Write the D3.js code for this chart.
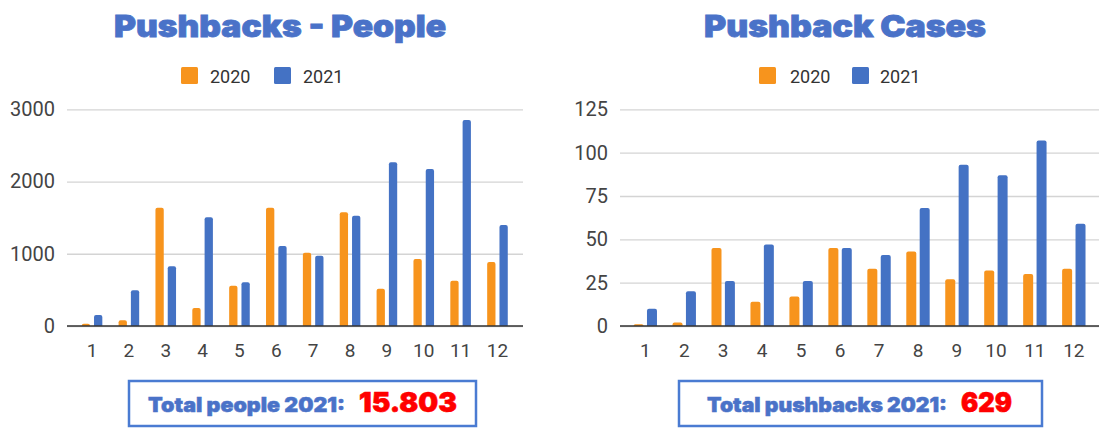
<!DOCTYPE html>
<html><head><meta charset="utf-8">
<script src="https://cdn.jsdelivr.net/npm/d3@7"></script>
<style>
html,body{margin:0;padding:0;background:#fff;}
svg{display:block;}
</style></head>
<body>
<svg id="c" width="1099" height="428"></svg>
<script>
const months = ["1","2","3","4","5","6","7","8","9","10","11","12"];
const seriesNames = ["2020","2021"];
const people2020 = [30, 78, 1638, 249, 558, 1638, 1015, 1574, 517, 928, 628, 886];
const people2021 = [152, 494, 826, 1505, 605, 1108, 974, 1528, 2266, 2174, 2852, 1398];
const cases2020 = [1, 2, 45, 14, 17, 45, 33, 43, 27, 32, 30, 33];
const cases2021 = [10, 20, 26, 47, 26, 45, 41, 68, 93, 87, 107, 59];
const peopleTicks = [0, 1000, 2000, 3000];
const casesTicks = [0, 25, 50, 75, 100, 125];
const colors = {"2020": "#f7941d", "2021": "#4472c4"};
const titleBlue = "#4a72c8";

const svg = d3.select("#c");

function roundedTop(x, y, w, h, r) {
  r = Math.min(r, h, w / 2);
  return `M${x},${y + h}V${y + r}Q${x},${y} ${x + r},${y}H${x + w - r}Q${x + w},${y} ${x + w},${y + r}V${y + h}Z`;
}

function drawChart(cfg) {
  const g = svg.append("g");
  const y = d3.scaleLinear().domain([0, cfg.max]).range([326, 109.3]);
  const x = d3.scaleBand().domain(months).range(cfg.xr).padding(0);
  const inner = d3.scaleBand().domain(seriesNames)
    .range([x.bandwidth() / 2 - cfg.innerW / 2, x.bandwidth() / 2 + cfg.innerW / 2])
    .paddingInner(cfg.innerPad).paddingOuter(0);

  // title
  g.append("text").attr("x", cfg.titleX).attr("y", 37)
    .attr("text-anchor", "middle")
    .attr("font-family", "Inter, 'DejaVu Sans', sans-serif")
    .attr("font-weight", 900).attr("font-size", 30)
    .attr("fill", titleBlue).attr("stroke", titleBlue).attr("stroke-width", 0.8)
    .attr("textLength", cfg.titleW).attr("lengthAdjust", "spacingAndGlyphs")
    .text(cfg.title);

  // legend
  cfg.legend.forEach((L, i) => {
    g.append("rect").attr("x", L.sx).attr("y", 67).attr("width", 17).attr("height", 17)
      .attr("rx", 1.5).attr("fill", colors[seriesNames[i]]);
    g.append("text").attr("x", L.tx).attr("y", 83)
      .attr("font-family", "Roboto, 'Liberation Sans', sans-serif")
      .attr("font-size", 18).attr("fill", "#333")
      .text(seriesNames[i]);
  });

  // grid
  g.append("g").attr("class", "grid")
    .attr("transform", `translate(${cfg.gx0},0)`)
    .call(d3.axisLeft(y).tickValues(cfg.ticks).tickSize(-(cfg.gx1 - cfg.gx0)).tickFormat(""))
    .call(s => s.select(".domain").remove())
    .call(s => s.selectAll("line").attr("stroke", "#d4d4d4").attr("stroke-width", 1.3));

  // y labels
  g.append("g").attr("transform", `translate(${cfg.labX},0)`)
    .call(d3.axisLeft(y).tickValues(cfg.ticks).tickSize(0).tickPadding(0).tickFormat(d3.format("d")))
    .call(s => s.select(".domain").remove())
    .call(s => s.selectAll("text").attr("font-family", "Roboto, 'Liberation Sans', sans-serif")
      .attr("font-size", 20).attr("fill", "#444"));

  // bars
  const groups = g.append("g").selectAll("g").data(months).join("g")
    .attr("transform", d => `translate(${x(d)},0)`);
  groups.selectAll("path").data((d, i) => seriesNames.map((s, k) => ({s, v: cfg.data[k][i]})))
    .join("path")
    .attr("d", d => roundedTop(inner(d.s), y(d.v), inner.bandwidth(), y(0) - y(d.v), 2))
    .attr("fill", d => colors[d.s]);

  // x axis
  g.append("g").attr("transform", `translate(0,326)`)
    .call(d3.axisBottom(x).tickSize(0).tickPadding(0))
    .call(s => s.select(".domain").remove())
    .call(s => s.selectAll("text").attr("font-family", "Roboto, 'Liberation Sans', sans-serif")
      .attr("font-size", 19).attr("fill", "#444").attr("dy", 0).attr("y", 31));
  g.append("line").attr("x1", cfg.gx0).attr("x2", cfg.gx1).attr("y1", 326).attr("y2", 326)
    .attr("stroke", "#333").attr("stroke-width", 1.5);

  // total box
  g.append("rect").attr("x", cfg.box[0]).attr("y", 381).attr("width", cfg.box[1]).attr("height", 45)
    .attr("fill", "none").attr("stroke", "#4a7bd2").attr("stroke-width", 2.5);
  g.append("text").attr("x", cfg.lab[0]).attr("y", 412)
    .attr("font-family", "Inter, 'DejaVu Sans', sans-serif").attr("font-weight", 900)
    .attr("font-size", 20).attr("fill", "#4a72c8").attr("stroke", "#4a72c8").attr("stroke-width", 0.5)
    .attr("textLength", cfg.lab[1]).attr("lengthAdjust", "spacingAndGlyphs")
    .text(cfg.totalLabel);
  g.append("text").attr("x", cfg.num[0]).attr("y", 412)
    .attr("font-family", "Inter, 'DejaVu Sans', sans-serif").attr("font-weight", 900)
    .attr("font-size", 27).attr("fill", "#ff0000").attr("stroke", "#ff0000").attr("stroke-width", 0.6)
    .attr("textLength", cfg.num[1]).attr("lengthAdjust", "spacingAndGlyphs")
    .text(cfg.totalValue);
}

const totalCases = d3.sum(cases2021);

drawChart({
  title: "Pushbacks - People", titleX: 280, titleW: 332,
  legend: [{sx: 181, tx: 210}, {sx: 274, tx: 303}],
  max: 3000, ticks: peopleTicks, data: [people2020, people2021],
  xr: [73.6, 515.9], innerW: 20.6, innerPad: 0.325,
  gx0: 67, gx1: 523, labX: 55,
  box: [129, 347], lab: [148, 197], num: [359, 98],
  totalLabel: "Total people 2021:", totalValue: "15.803"
});
drawChart({
  title: "Pushback Cases", titleX: 845, titleW: 282,
  legend: [{sx: 759, tx: 790}, {sx: 852, tx: 880}],
  max: 125, ticks: casesTicks, data: [cases2020, cases2021],
  xr: [625.8, 1093.3], innerW: 23.4, innerPad: 0.254,
  gx0: 620, gx1: 1100, labX: 608,
  box: [679, 363], lab: [707, 240], num: [961, 51],
  totalLabel: "Total pushbacks 2021:", totalValue: String(totalCases)
});
</script>
</body></html>
